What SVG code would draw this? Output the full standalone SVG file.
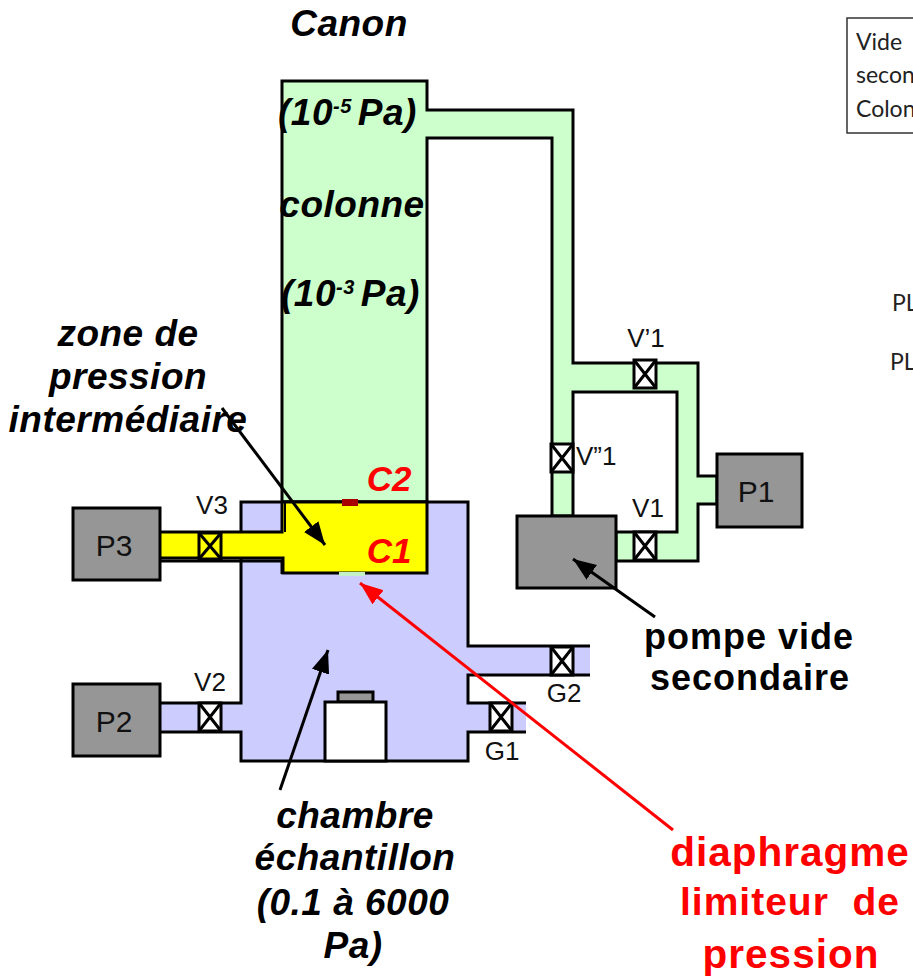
<svg xmlns="http://www.w3.org/2000/svg" width="913" height="980" viewBox="0 0 913 980">
<defs>
<style>
.s{stroke:#000;stroke-width:3;stroke-linejoin:miter}
.g{fill:#CCFFCC}.b{fill:#CCCCFF}.y{fill:#FFFF00}.p{fill:#969696}
.l{font-family:"Liberation Sans",Arial,sans-serif}
.lab{font-size:26px;fill:#111}
.pn{font-size:30px;fill:#111}
.bi{font-size:37px;font-weight:bold;font-style:italic;fill:#000;letter-spacing:.5px}
.bd{font-size:36px;font-weight:bold;fill:#000;letter-spacing:1px}
.rd{font-size:40.5px;font-weight:bold;fill:#FF0000;letter-spacing:1px}
.c{font-size:35px;font-weight:bold;font-style:italic;fill:#FF0000}
.cal{font-family:Lato,"Open Sans",sans-serif;font-size:23px;fill:#222}
.m{text-anchor:middle}
.a{stroke:#000;stroke-width:3;fill:none}
</style>
<marker id="ab" markerUnits="userSpaceOnUse" markerWidth="24" markerHeight="20" refX="23" refY="9" orient="auto"><path d="M0 0L23 9L0 18z" fill="#000"/></marker>
<marker id="ar" markerUnits="userSpaceOnUse" markerWidth="24" markerHeight="20" refX="23" refY="9" orient="auto"><path d="M0 0L23 9L0 18z" fill="#FF0000"/></marker>
<g id="vx"><rect x="0" y="0" width="22" height="28" fill="#fff" stroke="#000" stroke-width="3"/><path d="M0 0L22 28M22 0L0 28" stroke="#000" stroke-width="3" fill="none"/></g>
</defs>

<g id="column"><path class="g s" d="M282 502V81H427V110H573V363H698V476H717V504H698V561H616V532H677V392H573V516H552V138H427V502Z"/></g>
<g id="chamber"><path class="b" d="M241 502H468V646H590V675H468V703H526V732H468V761H241V732H160V703H241Z"/>
<path d="M160 703H241V502H468V646H590M590 675H468V703H526M526 732H468V761H241V732H160" fill="none" stroke="#000" stroke-width="3"/></g>
<g id="zone"><path class="y" d="M160 533H283V503H427V573H283V558H160Z"/>
<path d="M282 502V532H160M160 558H283V573H427V502M282 502H427" fill="none" stroke="#000" stroke-width="3"/>
<path d="M160 561H282V574" fill="none" stroke="#000" stroke-width="3"/>
<path d="M285 502V532" fill="none" stroke="#000" stroke-width="2"/>
<rect x="339" y="572" width="26" height="4" fill="#C4F0C8"/>
<rect x="342" y="499" width="16" height="7" fill="#A80000"/></g>
<g id="sample"><rect x="338" y="692" width="35" height="10" fill="#969696" stroke="#000" stroke-width="3"/><rect x="325" y="702" width="61" height="59" fill="#fff" stroke="#000" stroke-width="3"/></g>
<g id="P3"><rect class="p s" x="73" y="508" width="87" height="72"/><text class="l pn m" x="114" y="556">P3</text></g>
<g id="P2"><rect class="p s" x="73" y="684" width="87" height="72"/><text class="l pn m" x="114" y="732">P2</text></g>
<g id="P1"><rect class="p s" x="717" y="454" width="85" height="73"/><text class="l pn m" x="756" y="502">P1</text></g>
<g id="pump"><rect class="p s" x="517" y="516" width="99" height="72"/></g>
<g id="V3"><rect x="199" y="533" width="22" height="26" fill="#FFFF00" stroke="#000" stroke-width="3"/><path d="M199 533L221 559M221 533L199 559" stroke="#000" stroke-width="3"/><text class="l lab m" x="212" y="514">V3</text></g>
<g id="V2"><use href="#vx" x="199" y="703"/><text class="l lab m" x="210" y="691">V2</text></g>
<g id="V1p"><use href="#vx" x="634" y="360"/><text class="l lab m" x="646" y="347">V’1</text></g>
<g id="V1pp"><use href="#vx" x="551" y="444"/><text class="l lab" x="576" y="465">V”1</text></g>
<g id="V1"><use href="#vx" x="634" y="532"/><text class="l lab m" x="648" y="517">V1</text></g>
<g id="G2"><use href="#vx" x="551" y="647"/><text class="l lab m" x="564" y="702">G2</text></g>
<g id="G1"><use href="#vx" x="490" y="703"/><text class="l lab m" x="502" y="760">G1</text></g>
<g id="connectors">
<path class="a" d="M222 408L325 545" marker-end="url(#ab)"/>
<path class="a" d="M280 790L328 650" marker-end="url(#ab)"/>
<path class="a" d="M655 617L573 559" marker-end="url(#ab)"/>
<path d="M673 830L360 583" fill="none" stroke="#FF0000" stroke-width="3" marker-end="url(#ar)"/>
</g>
<g id="labels">
<text class="l bi m" x="349" y="36">Canon</text>
<text class="l bi" x="278" y="125">(10<tspan font-size="20" dy="-12">-5 </tspan><tspan dy="12">Pa)</tspan></text>
<text class="l bi m" x="352" y="217">colonne</text>
<text class="l bi" x="281" y="306">(10<tspan font-size="20" dy="-12">-3 </tspan><tspan dy="12">Pa)</tspan></text>
<text class="l bi m" x="128" y="346">zone de</text>
<text class="l bi m" x="128" y="389">pression</text>
<text class="l bi m" x="128" y="432">intermédiaire</text>
<text class="l c m" x="389" y="491">C2</text>
<text class="l c m" x="389" y="563">C1</text>
<text class="l bi m" x="355" y="828">chambre</text>
<text class="l bi m" x="355" y="870">échantillon</text>
<text class="l bi m" x="353" y="915">(0.1 à 6000</text>
<text class="l bi m" x="353" y="958">Pa)</text>
<text class="l bd m" x="749" y="649">pompe vide</text>
<text class="l bd m" x="750" y="690">secondaire</text>
<text class="l rd m" x="790" y="866">diaphragme</text>
<text class="l rd m" x="790" y="915" style="font-size:39px" xml:space="preserve">limiteur  de</text>
<text class="l rd m" x="791" y="968">pression</text>
</g>
<g id="legend">
<rect x="847" y="18" width="80" height="115" fill="#fff" stroke="#333" stroke-width="1.5"/>
<text class="cal" x="856" y="50">Vide</text>
<text class="cal" x="856" y="83">secon</text>
<text class="cal" x="856" y="117">Colon</text>
<text class="cal" x="892" y="311">PL</text>
<text class="cal" x="890" y="370">PL</text>
</g>
</svg>
